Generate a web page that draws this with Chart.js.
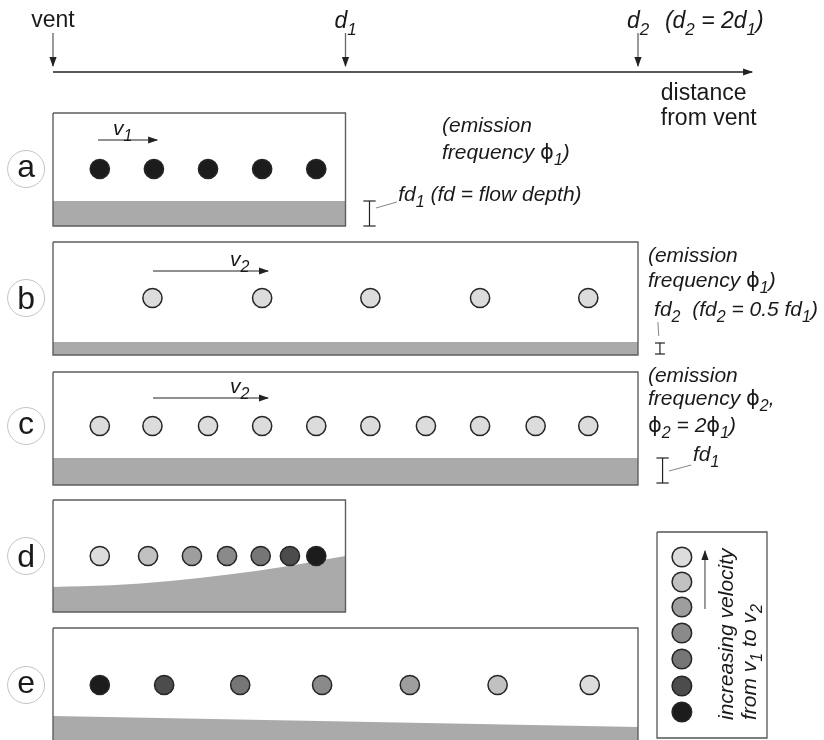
<!DOCTYPE html>
<html><head><meta charset="utf-8">
<script src="https://cdn.jsdelivr.net/npm/chart.js@4.4.0/dist/chart.umd.min.js"></script>
<style>html,body{margin:0;padding:0;background:#fff}canvas{display:block}</style>
</head><body><canvas id="c" width="824" height="740"></canvas>
<script>
// x values: distance from vent in units of d1 (vent = 0, d1 = 1, d2 = 2)
const axisTicks  = [0, 1, 2];
const tickLabels = ['vent', 'd_1', 'd_2'];
// clast positions (distance from vent) for each panel
const dotsA = [0.16, 0.345, 0.53, 0.715, 0.90];
const dotsB = [0.34, 0.715, 1.085, 1.46, 1.83];
const dotsC = [0.16, 0.34, 0.53, 0.715, 0.90, 1.085, 1.275, 1.46, 1.65, 1.83];
const dotsD = [0.16, 0.325, 0.475, 0.595, 0.71, 0.81, 0.90];
const dotsE = [0.16, 0.38, 0.64, 0.92, 1.22, 1.52, 1.835];
// velocity level of each clast (0 = v1 slowest ... 6 = v2 fastest)
const velA = [0, 0, 0, 0, 0];
const velB = [6, 6, 6, 6, 6];
const velC = [6, 6, 6, 6, 6, 6, 6, 6, 6, 6];
const velD = [6, 5, 4, 3, 2, 1, 0];
const velE = [0, 1, 2, 3, 4, 5, 6];
const velLegend = [6, 5, 4, 3, 2, 1, 0];
const shades = ['#1c1c1c', '#4c4c4c', '#767676', '#8a8a8a', '#9e9e9e', '#c1c1c1', '#dcdcdc'];
// panel letters
const panelLetters = ['a', 'b', 'c', 'd', 'e'];
// flow-depth (ground) profile of panel d and e
const groundDx = [0, 0.2, 0.4, 0.6, 0.8, 1.0];
const groundDy = [587, 585.3, 581, 574.6, 566.3, 556];
const groundEx = [0, 2];
const groundEy = [716, 727];

// ---------- layout (vertical rows in canvas units, top = 0) ----------
const rowY = [169, 298, 426, 556, 685];
const panels = [
  {x0: 0, x1: 1, top: 113, bot: 226, ground: 201},
  {x0: 0, x1: 2, top: 242, bot: 355, ground: 342},
  {x0: 0, x1: 2, top: 372, bot: 485, ground: 458},
  {x0: 0, x1: 1, top: 500, bot: 612, ground: null},
  {x0: 0, x1: 2, top: 628, bot: 745, ground: null}
];
const XMIN = -0.1812, XMAX = 2.6359;
const LETTER_X = -0.092;
const FONT = '"Liberation Sans", Arial, Helvetica, sans-serif';

const datasets = [];
const line = (pts, o = {}) => datasets.push(Object.assign({
  data: pts.map(p => ({x: p[0], y: p[1]})), showLine: true, pointRadius: 0,
  borderColor: '#5a5a5a', borderWidth: 1.3, fill: false, clip: false, order: 6
}, o));

// ground fills
panels.forEach(p => {
  if (p.ground !== null) line([[p.x0, p.ground], [p.x1, p.ground]],
    {fill: {value: p.bot}, backgroundColor: '#aaaaaa', borderWidth: 0, order: 10});
});
line(groundDx.map((x, i) => [x, groundDy[i]]),
  {fill: {value: 612}, backgroundColor: '#aaaaaa', borderWidth: 0, tension: 0.4, cubicInterpolationMode: 'monotone', order: 10});
line(groundEx.map((x, i) => [x, groundEy[i]]),
  {fill: {value: 745}, backgroundColor: '#aaaaaa', borderWidth: 0, order: 10});

// panel frames
panels.forEach(p => line([[p.x0, p.top], [p.x1, p.top], [p.x1, p.bot], [p.x0, p.bot], [p.x0, p.top]],
  {borderColor: '#5e5e5e', borderWidth: 1.4, order: 8}));
// legend frame
line([[2.065, 532], [2.441, 532], [2.441, 738], [2.065, 738], [2.065, 532]], {borderColor: '#555', borderWidth: 1.3, order: 8});

// distance axis with arrows
line([[0, 72], [2.39, 72]], {borderColor: '#222', borderWidth: 1.5, arrow: true});
axisTicks.forEach(t => line([[t, 33], [t, 66]], {borderColor: '#666', borderWidth: 1.3, arrow: true, arrowColor: '#222'}));
// velocity arrows
line([[0.154, 140], [0.356, 140]], {borderColor: '#222', borderWidth: 1.2, arrow: true});
line([[0.342, 271], [0.735, 271]], {borderColor: '#222', borderWidth: 1.2, arrow: true});
line([[0.342, 398], [0.735, 398]], {borderColor: '#222', borderWidth: 1.2, arrow: true});
line([[2.229, 609], [2.229, 551]], {borderColor: '#666', borderWidth: 1.3, arrow: true, arrowColor: '#222'});

// flow depth brackets
const bracket = (x, y0, y1, w) => {
  line([[x, y0], [x, y1]], {borderColor: '#222', borderWidth: 1.2});
  line([[x - w, y0], [x + w, y0]], {borderColor: '#222', borderWidth: 1.2});
  line([[x - w, y1], [x + w, y1]], {borderColor: '#222', borderWidth: 1.2});
};
bracket(1.082, 201, 226, 0.021);
bracket(2.075, 343, 354, 0.017);
bracket(2.084, 458, 483, 0.021);
line([[1.104, 208], [1.176, 202]], {borderColor: '#777', borderWidth: 0.9});
line([[2.068, 322], [2.071, 336]], {borderColor: '#777', borderWidth: 0.9});
line([[2.106, 471], [2.182, 465]], {borderColor: '#777', borderWidth: 0.9});

// clasts
const dotSet = (xs, vel, y) => datasets.push({
  data: xs.map(x => ({x, y})), pointRadius: 9.6,
  pointBackgroundColor: vel.map(v => shades[v]), pointBorderColor: '#262626', pointBorderWidth: 1.5,
  showLine: false, clip: false, order: 1
});
dotSet(dotsA, velA, rowY[0]);
dotSet(dotsB, velB, rowY[1]);
dotSet(dotsC, velC, rowY[2]);
dotSet(dotsD, velD, rowY[3]);
dotSet(dotsE, velE, rowY[4]);
// legend clasts
datasets.push({
  data: [557, 582, 607, 633, 659, 686, 712].map(y => ({x: 2.15, y})), pointRadius: 9.8,
  pointBackgroundColor: velLegend.map(v => shades[v]), pointBorderColor: '#262626', pointBorderWidth: 1.5,
  showLine: false, clip: false, order: 1
});
// panel letter circles
datasets.push({
  data: rowY.map(y => ({x: LETTER_X, y})), pointRadius: 18.5,
  pointBackgroundColor: '#fff', pointBorderColor: '#c4c4c4', pointBorderWidth: 1,
  showLine: false, clip: false, order: 2
});

// ---------- text ----------
const PHI = '\u03D5';
const texts = [
  {x: 0, y: 27, t: 'vent', size: 23, it: false, align: 'center'},
  {x: 1, y: 28, t: 'd_1', size: 23, it: true, align: 'center'},
  {x: 2, y: 28, t: 'd_2', size: 23, it: true, align: 'center'},
  {x: 2.092, y: 28, t: '(d_2 = 2d_1)', size: 23, it: true},
  {x: 2.078, y: 100, t: 'distance', size: 23, it: false},
  {x: 2.078, y: 125, t: 'from vent', size: 23, it: false},
  {x: 0.205, y: 135, t: 'v_1', size: 21, it: true},
  {x: 0.605, y: 266, t: 'v_2', size: 21, it: true},
  {x: 0.605, y: 393, t: 'v_2', size: 21, it: true},
  {x: 1.33, y: 132, t: '(emission', size: 21, it: true},
  {x: 1.33, y: 159, t: 'frequency ' + PHI + '_1)', size: 21, it: true},
  {x: 1.18, y: 201, t: 'fd_1 (fd = flow depth)', size: 21, it: true},
  {x: 2.034, y: 262, t: '(emission', size: 21, it: true},
  {x: 2.034, y: 287, t: 'frequency ' + PHI + '_1)', size: 21, it: true},
  {x: 2.055, y: 316, t: 'fd_2  (fd_2 = 0.5 fd_1)', size: 21, it: true},
  {x: 2.034, y: 382, t: '(emission', size: 21, it: true},
  {x: 2.034, y: 405, t: 'frequency ' + PHI + '_2,', size: 21, it: true},
  {x: 2.034, y: 432, t: PHI + '_2 = 2' + PHI + '_1)', size: 21, it: true},
  {x: 2.188, y: 461, t: 'fd_1', size: 21, it: true},
  {x: 2.325, y: 720, t: 'increasing velocity', size: 21, it: true, rot: true},
  {x: 2.403, y: 720, t: 'from v_1 to v_2', size: 21, it: true, rot: true}
];

function parseRich(s) {
  const runs = [];
  for (let i = 0; i < s.length; i++) {
    const c = s[i];
    if (c === '_') { runs.push({s: s[i + 1], sub: true}); i++; continue; }
    if (c === PHI) { runs.push({s: c, greek: true}); continue; }
    const last = runs[runs.length - 1];
    if (last && !last.sub && !last.greek) last.s += c; else runs.push({s: c});
  }
  return runs;
}
function runFont(r, size, it) {
  if (r.sub) return (it ? 'italic ' : '') + Math.round(size * 0.74) + 'px ' + FONT;
  if (r.greek) return size + 'px "DejaVu Sans", ' + FONT;
  return (it ? 'italic ' : '') + size + 'px ' + FONT;
}
function drawRich(ctx, s, x, y, size, it, align) {
  const runs = parseRich(s);
  let w = 0;
  runs.forEach(r => { ctx.font = runFont(r, size, it); r.w = ctx.measureText(r.s).width; w += r.w; });
  let cx = align === 'center' ? x - w / 2 : x;
  runs.forEach(r => {
    ctx.font = runFont(r, size, it);
    ctx.fillText(r.s, cx, y + (r.sub ? size * 0.3 : 0));
    cx += r.w;
  });
}

const textPlugin = {
  id: 'diagramText',
  afterDatasetDraw(chart, args) {
    const ds = chart.data.datasets[args.index];
    if (!ds.arrow) return;
    const pts = args.meta.data;
    const a = pts[pts.length - 2], b = pts[pts.length - 1];
    const ang = Math.atan2(b.y - a.y, b.x - a.x);
    const ctx = chart.ctx, L = 9, W = 3.6;
    ctx.save();
    ctx.fillStyle = ds.arrowColor || ds.borderColor;
    ctx.translate(b.x, b.y); ctx.rotate(ang);
    ctx.beginPath(); ctx.moveTo(1, 0); ctx.lineTo(-L, -W); ctx.lineTo(-L, W); ctx.closePath(); ctx.fill();
    ctx.restore();
  },
  afterDatasetsDraw(chart) {
    const ctx = chart.ctx, xs = chart.scales.x, ys = chart.scales.y;
    ctx.save();
    ctx.fillStyle = '#1a1a1a';
    ctx.textBaseline = 'alphabetic';
    texts.forEach(o => {
      const px = xs.getPixelForValue(o.x), py = ys.getPixelForValue(o.y);
      if (o.rot) {
        ctx.save(); ctx.translate(px, py); ctx.rotate(-Math.PI / 2);
        drawRich(ctx, o.t, 0, 0, o.size, o.it, 'left');
        ctx.restore();
      } else drawRich(ctx, o.t, px, py, o.size, o.it, o.align);
    });
    // panel letters
    ctx.font = '32px ' + FONT;
    ctx.textAlign = 'center';
    panelLetters.forEach((l, i) => {
      ctx.fillText(l, xs.getPixelForValue(LETTER_X), ys.getPixelForValue(rowY[i]) + (l === 'a' || l === 'c' || l === 'e' ? 8 : 11));
    });
    ctx.restore();
  }
};

new Chart(document.getElementById('c'), {
  type: 'scatter',
  data: {datasets},
  options: {
    responsive: false, animation: false, events: [],
    layout: {padding: 0, autoPadding: false},
    scales: {
      x: {type: 'linear', min: XMIN, max: XMAX, display: false},
      y: {type: 'linear', min: 0, max: 740, reverse: true, display: false}
    },
    plugins: {legend: {display: false}, tooltip: {enabled: false}}
  },
  plugins: [textPlugin]
});
</script>
</body></html>
